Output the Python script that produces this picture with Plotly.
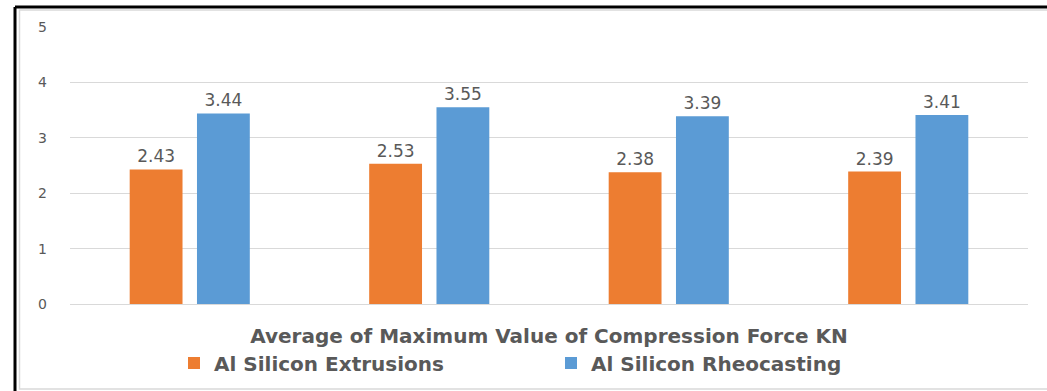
import plotly.graph_objects as go

# Series values (compression force, KN) for the four samples
samples = ["Sample 1", "Sample 2", "Sample 3", "Sample 4"]
extrusions = [2.43, 2.53, 2.38, 2.39]
rheocasting = [3.44, 3.55, 3.39, 3.41]
y_ticks = [0, 1, 2, 3, 4, 5]

ORANGE = "#ED7D31"
BLUE = "#5B9BD5"
TEXT = "#595959"
GRID = "#D9D9D9"

W, H = 1047, 391
L, R, T, B = 70, 19, 27, 87
pw, ph = W - L - R, H - T - B


def px_x(x):
    return (x - L) / pw


def px_y(y):
    return (H - B - y) / ph


label_font = dict(family="DejaVu Sans", size=17, color=TEXT)
bold_font = dict(family="DejaVu Sans", size=20, color=TEXT, weight="bold")

fig = go.Figure()
fig.add_trace(go.Bar(
    x=samples, y=extrusions, name="Al Silicon Extrusions",
    marker=dict(color=ORANGE, line=dict(width=0)),
    text=[f"{v:.2f}" for v in extrusions], textposition="outside",
    textfont=label_font, cliponaxis=False,
))
fig.add_trace(go.Bar(
    x=samples, y=rheocasting, name="Al Silicon Rheocasting",
    marker=dict(color=BLUE, line=dict(width=0)),
    text=[f"{v:.2f}" for v in rheocasting], textposition="outside",
    textfont=label_font, cliponaxis=False,
))

shapes = [
    # light inner frame
    dict(type="rect", xref="paper", yref="paper",
         x0=px_x(19.5), x1=px_x(1060), y0=px_y(389), y1=px_y(10),
         line=dict(color=GRID, width=1.5), layer="below"),
    # outer black frame (left and top edges)
    dict(type="line", xref="paper", yref="paper",
         x0=px_x(15), x1=px_x(15), y0=px_y(400), y1=px_y(7),
         line=dict(color="black", width=3)),
    dict(type="line", xref="paper", yref="paper",
         x0=px_x(15), x1=px_x(1060), y0=px_y(7), y1=px_y(7),
         line=dict(color="black", width=3)),
]

fig.update_layout(
    width=W, height=H,
    margin=dict(l=L, r=R, t=T, b=B, autoexpand=False),
    paper_bgcolor="white", plot_bgcolor="white",
    barmode="group", bargap=0.438, bargroupgap=0.215,
    shapes=shapes,
    legend=dict(
        orientation="h", x=px_x(174), xanchor="left",
        y=px_y(363), yanchor="middle",
        font=bold_font,
        itemwidth=30, entrywidth=332, entrywidthmode="pixels",
        bgcolor="rgba(0,0,0,0)",
    ),
    xaxis=dict(
        showticklabels=False, showgrid=False, zeroline=False,
        showline=False, ticks="",
        title=dict(
            text="Average of Maximum Value of Compression Force KN",
            font=bold_font, standoff=24,
        ),
    ),
    yaxis=dict(
        range=[0, 5], tickvals=y_ticks, showgrid=True, gridcolor=GRID,
        gridwidth=1, zeroline=True, zerolinecolor=GRID, zerolinewidth=1,
        showline=False, ticks="", ticklabelstandoff=22,
        tickfont=dict(family="DejaVu Sans", size=14, color=TEXT),
    ),
)

fig.write_html("out.html")
